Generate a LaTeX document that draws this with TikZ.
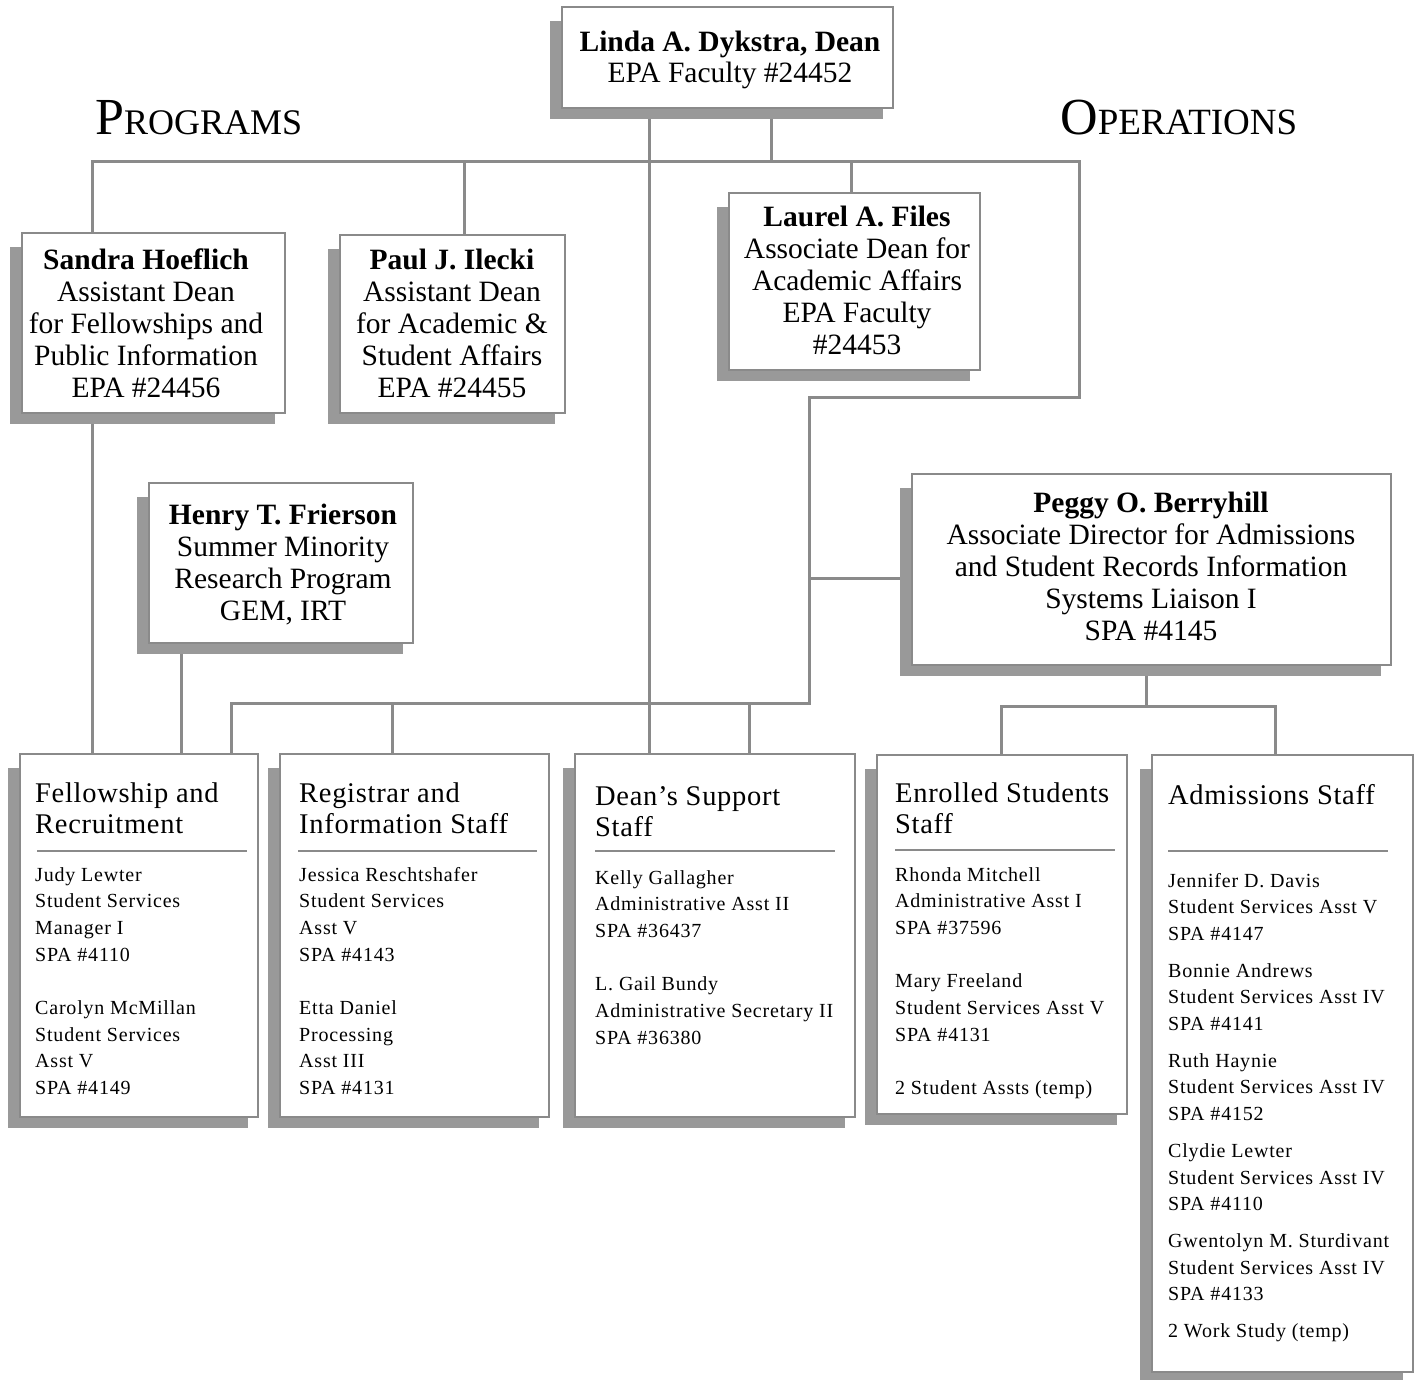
\documentclass[tikz,border=0pt]{standalone}
\usepackage{fontspec}
\setmainfont{Liberation Serif}
\newfontfamily\staffface{Liberation Serif}[LetterSpace=4]
\newfontfamily\headface{Liberation Serif}[LetterSpace=2.5]
\usetikzlibrary{calc}

\definecolor{edgegray}{HTML}{8A8A8A}
\definecolor{shadegray}{HTML}{999999}

\pgfdeclarelayer{links}
\pgfdeclarelayer{shades}
\pgfsetlayers{links,shades,main}

% multi-line nodes are placed by the baseline of their last line
\tikzset{
  box/.style={draw=edgegray, line width=2pt, fill=white, rectangle,
              inner sep=0pt, outer sep=0pt, anchor=north west},
  link/.style={draw=edgegray, line width=3pt},
  rulel/.style={draw=edgegray, line width=2.8pt},
  toptext/.style={anchor=base, align=center, inner sep=0pt,
                  font=\fontsize{29.5}{32}\selectfont},
  headtext/.style={anchor=base west, align=left, inner sep=0pt,
                   font=\headface\fontsize{28.5}{31}\selectfont},
  stafftext/.style={anchor=base west, align=left, inner sep=0pt,
                    font=\staffface\fontsize{20}{26.7}\selectfont},
  sidehead/.style={anchor=base west, inner sep=0pt}
}

% gray drop shade offset to the lower left of a box
\newcommand{\dropshade}[1]{%
  \fill[shadegray] ($(#1.north west)+(-12,14)$) rectangle ($(#1.south east)+(-10,11)$);}

\begin{document}
\begin{tikzpicture}[x=1pt,y=-1pt]
\useasboundingbox (0,0) rectangle (1418,1380);

% ---------- boxes ----------
\node[box, minimum width=331pt, minimum height=101pt] (dean)   at (562,7)    {};
\node[box, minimum width=263pt, minimum height=180pt] (sandra) at (22,233)   {};
\node[box, minimum width=225pt, minimum height=178pt] (paul)   at (340,235)  {};
\node[box, minimum width=251pt, minimum height=177pt] (laurel) at (729,193)  {};
\node[box, minimum width=264pt, minimum height=160pt] (henry)  at (149,483)  {};
\node[box, minimum width=479pt, minimum height=191pt] (peggy)  at (912,474)  {};
\node[box, minimum width=238pt, minimum height=363pt] (fell)   at (20,754)   {};
\node[box, minimum width=269pt, minimum height=363pt] (reg)    at (280,754)  {};
\node[box, minimum width=280pt, minimum height=363pt] (dss)    at (575,754)  {};
\node[box, minimum width=250pt, minimum height=359pt] (enr)    at (877,755)  {};
\node[box, minimum width=261pt, minimum height=617pt] (adm)    at (1152,755) {};

% ---------- shades ----------
\begin{pgfonlayer}{shades}
  \dropshade{dean}\dropshade{sandra}\dropshade{paul}\dropshade{laurel}
  \dropshade{henry}\dropshade{peggy}\dropshade{fell}\dropshade{reg}
  \dropshade{dss}\dropshade{enr}\dropshade{adm}
\end{pgfonlayer}

% ---------- junction points ----------
\coordinate (xa) at (649,0);
\coordinate (xb) at (771,0);
\coordinate (xs) at (92,0);
\coordinate (xp) at (464,0);
\coordinate (xl) at (851,0);
\coordinate (topR) at (1079,162);
\coordinate (topBus) at (0,162);
\coordinate (elbowR) at (1079,397);
\coordinate (elbowL) at (809,397);
\coordinate (lowR) at (809,703);
\coordinate (lowL) at (231,703);
\coordinate (lowA) at (392,703);
\coordinate (lowB) at (749,703);
\coordinate (pegJoin) at (809,578);
\coordinate (xh) at (181,0);
\coordinate (xpg) at (1146,0);
\coordinate (admL) at (1001,706);
\coordinate (admR) at (1275,706);

% ---------- connectors ----------
\begin{pgfonlayer}{links}
  \draw[link] (xa |- dean.south) -- (xa |- dss.north);
  \draw[link] (xb |- dean.south) -- (xb |- topBus);
  \draw[link] (xs |- sandra.north) -- (xs |- topBus) -- (topR)
              -- (elbowR) -- (elbowL) -- (lowR) -- (lowL) -- (lowL |- fell.north);
  \draw[link] (xp |- topBus) -- (xp |- paul.north);
  \draw[link] (xl |- topBus) -- (xl |- laurel.north);
  \draw[link] (pegJoin) -- (pegJoin -| peggy.west);
  \draw[link] (lowA) -- (lowA |- reg.north);
  \draw[link] (lowB) -- (lowB |- dss.north);
  \draw[link] (xs |- sandra.south) -- (xs |- fell.north);
  \draw[link] (xh |- henry.south) -- (xh |- fell.north);
  \draw[link] (xpg |- peggy.south) -- (xpg |- admL);
  \draw[link] (admL |- enr.north) -- (admL) -- (admR) -- (admR |- adm.north);
\end{pgfonlayer}

% ---------- side headings ----------
\node[sidehead] (programs) at (95,135)
  {\fontsize{52}{52}\selectfont P\fontsize{36}{36}\selectfont ROGRAMS};
\node[sidehead] (operations) at (1060,135)
  {\fontsize{52}{52}\selectfont O\fontsize{37}{37}\selectfont PERATIONS};

% ---------- upper box texts ----------
\node[toptext, font=\fontsize{29.5}{31}\selectfont] (deanT) at (730,83)
  {\textbf{Linda A. Dykstra, Dean}\\EPA Faculty \#24452};
\node[toptext] (sandraT) at (146,397)
  {\textbf{Sandra Hoeflich}\\Assistant Dean\\for Fellowships and\\Public Information\\EPA \#24456};
\node[toptext] (paulT) at (452,397)
  {\textbf{Paul J. Ilecki}\\Assistant Dean\\for Academic \&\\Student Affairs\\EPA \#24455};
\node[toptext] (laurelT) at (857,354)
  {\textbf{Laurel A. Files}\\Associate Dean for\\Academic Affairs\\EPA Faculty\\\#24453};
\node[toptext] (henryT) at (283,620)
  {\textbf{Henry T. Frierson}\\Summer Minority\\Research Program\\GEM, IRT};
\node[toptext] (peggyT) at (1151,640)
  {\textbf{Peggy O. Berryhill}\\Associate Director for Admissions\\and Student Records Information\\Systems Liaison I\\SPA \#4145};

% ---------- staff box headings and rules ----------
\node[headtext] (fellH) at (35,833) {Fellowship and\\Recruitment};
\node[headtext] (regH)  at (299,833) {Registrar and\\Information Staff};
\node[headtext] (dssH)  at (595,836) {Dean’s Support\\Staff};
\node[headtext] (enrH)  at (895,833) {Enrolled Students\\Staff};
\node[headtext] (admH)  at (1168,804) {Admissions Staff};

\draw[rulel] (37,851) -- (247,851);
\draw[rulel] (298,851) -- (537,851);
\draw[rulel] (595,851) -- (835,851);
\draw[rulel] (895,850) -- (1115,850);
\draw[rulel] (1168,851) -- (1388,851);

% ---------- staff lists ----------
\node[stafftext] (fellS) at (35,1094.6)
  {Judy Lewter\\Student Services\\Manager I\\SPA \#4110\\[26.7pt]
   Carolyn McMillan\\Student Services\\Asst V\\SPA \#4149};
\node[stafftext] (regS) at (299,1094.6)
  {Jessica Reschtshafer\\Student Services\\Asst V\\SPA \#4143\\[26.7pt]
   Etta Daniel\\Processing\\Asst III\\SPA \#4131};
\node[stafftext] (dssS) at (595,1044.2)
  {Kelly Gallagher\\Administrative Asst II\\SPA \#36437\\[26.7pt]
   L. Gail Bundy\\Administrative Secretary II\\SPA \#36380};
\node[stafftext] (enrS) at (895,1094.6)
  {Rhonda Mitchell\\Administrative Asst I\\SPA \#37596\\[26.7pt]
   Mary Freeland\\Student Services Asst V\\SPA \#4131\\[26.7pt]
   2 Student Assts (temp)};
\node[stafftext] (admS) at (1168,1337.5)
  {Jennifer D. Davis\\Student Services Asst V\\SPA \#4147\\[10pt]
   Bonnie Andrews\\Student Services Asst IV\\SPA \#4141\\[10pt]
   Ruth Haynie\\Student Services Asst IV\\SPA \#4152\\[10pt]
   Clydie Lewter\\Student Services Asst IV\\SPA \#4110\\[10pt]
   Gwentolyn M. Sturdivant\\Student Services Asst IV\\SPA \#4133\\[10pt]
   2 Work Study (temp)};
\end{tikzpicture}
\end{document}
